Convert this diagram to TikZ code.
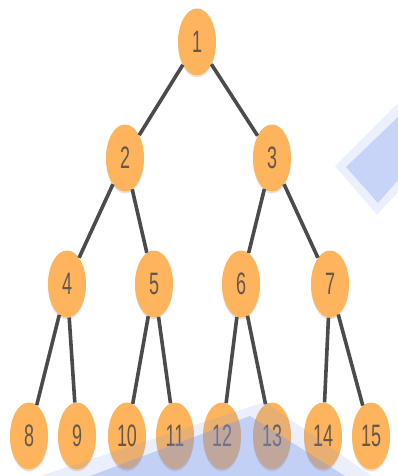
\documentclass[tikz,border=0pt]{standalone}
\usepackage{fontspec}
\setmainfont{Liberation Sans}
\usepackage{tikz}
\usetikzlibrary{shapes.geometric,shadows}

\definecolor{nodeorange}{RGB}{253,180,92}
\definecolor{edgegray}{RGB}{75,75,75}
\definecolor{digitgray}{RGB}{100,88,78}
\definecolor{deco}{RGB}{120,150,235}

\newcommand{\lbl}[1]{\scalebox{0.58}[1]{#1}}

\tikzset{
  vertex/.style={ellipse,fill=nodeorange,minimum width=38pt,minimum height=67pt,inner sep=0pt,
    text=digitgray,font=\fontsize{31}{31}\selectfont,
    drop shadow={opacity=0.22,shadow xshift=0pt,shadow yshift=-2pt}},
  link/.style={draw=edgegray,line width=3.6pt}
}

\begin{document}
\begin{tikzpicture}[x=1pt,y=-1pt]
\useasboundingbox (0,0) rectangle (398,476);
% tree
\node[vertex] (n1) at (197,42) {\lbl{1}};
\node[vertex] (n2) at (125,158) {\lbl{2}};
\node[vertex] (n3) at (272,158) {\lbl{3}};
\node[vertex] (n4) at (67,284) {\lbl{4}};
\node[vertex] (n5) at (154,284) {\lbl{5}};
\node[vertex] (n6) at (241,284) {\lbl{6}};
\node[vertex] (n7) at (330,284) {\lbl{7}};
\node[vertex] (n8) at (29,436) {\lbl{8}};
\node[vertex] (n9) at (77,436) {\lbl{9}};
\node[vertex] (n10) at (127,436) {\lbl{10}};
\node[vertex] (n11) at (175,436) {\lbl{11}};
\node[vertex] (n12) at (222,436) {\lbl{12}};
\node[vertex] (n13) at (272,436) {\lbl{13}};
\node[vertex] (n14) at (323,436) {\lbl{14}};
\node[vertex] (n15) at (371,436) {\lbl{15}};
\draw[link] (n1) -- (n2);
\draw[link] (n1) -- (n3);
\draw[link] (n2) -- (n4);
\draw[link] (n2) -- (n5);
\draw[link] (n3) -- (n6);
\draw[link] (n3) -- (n7);
\draw[link] (n4) -- (n8);
\draw[link] (n4) -- (n9);
\draw[link] (n5) -- (n10);
\draw[link] (n5) -- (n11);
\draw[link] (n6) -- (n12);
\draw[link] (n6) -- (n13);
\draw[link] (n7) -- (n14);
\draw[link] (n7) -- (n15);
% background shapes
\fill[deco,opacity=0.14] (335,166) -- (398,103) -- (398,192) -- (377,215) -- cycle;
\fill[deco,opacity=0.32] (346,167) -- (398,117) -- (398,180) -- (378,203) -- cycle;
\fill[deco,opacity=0.15] (40,476) -- (265,402) -- (372,476) -- cycle;
\fill[deco,opacity=0.35] (90,476) -- (250,416) -- (345,476) -- cycle;
\end{tikzpicture}
\end{document}
